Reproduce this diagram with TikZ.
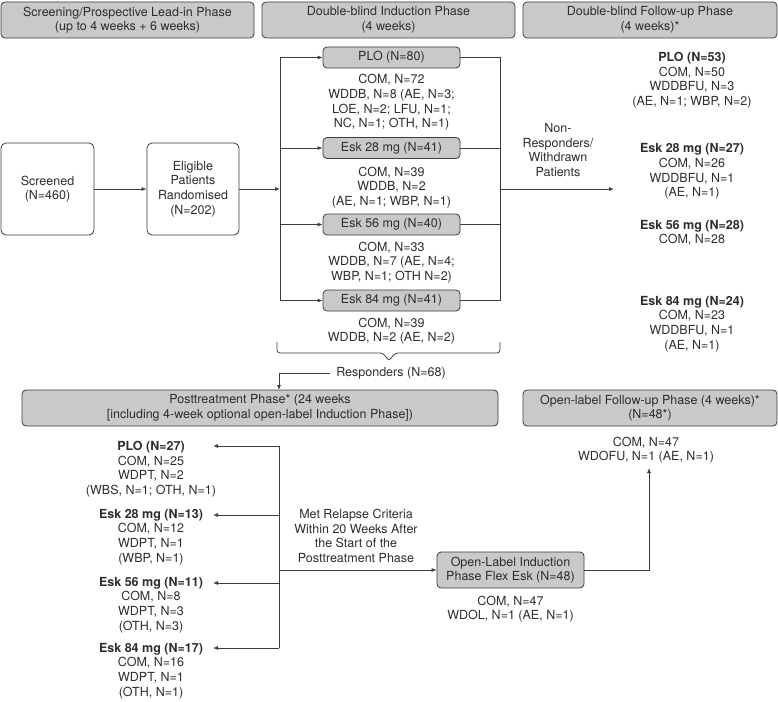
\documentclass[tikz,border=0pt]{standalone}
\usepackage{fontspec}
\setmainfont{TeX Gyre Heros}
\usetikzlibrary{arrows.meta}
\definecolor{boxgray}{RGB}{201,201,201}
\definecolor{ink}{RGB}{45,45,45}
\definecolor{linec}{RGB}{60,60,60}
\begin{document}
\begin{tikzpicture}[x=1pt,y=-1pt,
  every node/.style={font=\fontsize{12.5}{14.6}\selectfont, text=ink},
  phase/.style={draw=linec, line width=0.8pt, fill=boxgray, rounded corners=4pt, align=center, inner sep=0pt},
  armbox/.style={phase, minimum width=137pt, minimum height=21pt},
  whitebox/.style={draw=linec, line width=0.8pt, fill=white, rounded corners=5pt, align=center, inner sep=0pt},
  txt/.style={align=center, inner sep=0pt},
  conn/.style={draw=linec, line width=0.8pt},
  arr/.style={conn, -{Latex[length=5pt,width=4pt]}}
]
\useasboundingbox (0,0) rectangle (778,701);

% header phases
\node[phase, minimum width=253pt, minimum height=36pt] (hA) at (127.5,20) {Screening/Prospective Lead-in Phase\\(up to 4 weeks + 6 weeks)};
\node[phase, minimum width=253pt, minimum height=36pt] (hB) at (388.5,20) {Double-blind Induction Phase\\(4 weeks)};
\node[phase, minimum width=254pt, minimum height=36pt] (hC) at (650,20) {Double-blind Follow-up Phase\\(4 weeks)*};

% screening
\node[whitebox, minimum width=93pt, minimum height=92pt] (scr) at (47.5,189) {Screened\\(N=460)};
\node[whitebox, minimum width=92pt, minimum height=92pt] (elig) at (193,189) {Eligible\\Patients\\Randomised\\(N=202)};

% induction arms
\node[armbox] (plo) at (391.5,57.5) {PLO (N=80)};
\node[armbox] (e28) at (391.5,148) {Esk 28 mg (N=41)};
\node[armbox] (e56) at (391.5,224.5) {Esk 56 mg (N=40)};
\node[armbox] (e84) at (391.5,300.5) {Esk 84 mg (N=41)};

\node[txt] (ploT) at (391.5,102.5) {COM, N=72\\WDDB, N=8 (AE, N=3;\\LOE, N=2; LFU, N=1;\\NC, N=1; OTH, N=1)};
\node[txt] (e28T) at (391.5,187.5) {COM, N=39\\WDDB, N=2\\(AE, N=1; WBP, N=1)};
\node[txt] (e56T) at (391.5,262.5) {COM, N=33\\WDDB, N=7 (AE, N=4;\\WBP, N=1; OTH N=2)};
\node[txt] (e84T) at (391.5,331) {COM, N=39\\WDDB, N=2 (AE, N=2)};

% follow-up column
\node[txt] (fuPLO) at (692,80) {\textbf{PLO (N=53)}\\COM, N=50\\WDDBFU, N=3\\(AE, N=1; WBP, N=2)};
\node[txt] (fu28) at (692,171.5) {\textbf{Esk 28 mg (N=27)}\\COM, N=26\\WDDBFU, N=1\\(AE, N=1)};
\node[txt] (fu56) at (692,233) {\textbf{Esk 56 mg (N=28)}\\COM, N=28};
\node[txt] (fu84) at (692,324) {\textbf{Esk 84 mg (N=24)}\\COM, N=23\\WDDBFU, N=1\\(AE, N=1)};

\node[txt] (nr) at (558,150) {Non-\\Responders/\\Withdrawn\\Patients};

% junctions
\coordinate (jL) at (280,189);
\coordinate (jL1) at (280,57.5);
\coordinate (jL4) at (280,300.5);
\coordinate (jR1) at (500,57.5);
\coordinate (jR4) at (500,300.5);
\coordinate (jRm) at (500,189);
\coordinate (nrEnd) at (614,189);

\draw[arr] (scr.east) -- (elig.west);
\draw[arr] (elig.east) -- (jL);
\draw[conn] (jL1) -- (jL4);
\draw[arr] (jL1) -- (plo.west);
\draw[arr] (jL1 |- e28.west) -- (e28.west);
\draw[arr] (jL1 |- e56.west) -- (e56.west);
\draw[arr] (jL4) -- (e84.west);
\draw[conn] (plo.east) -- (jR1) -- (jR4) -- (e84.east);
\draw[conn] (e28.east) -- (e28.east -| jR1);
\draw[conn] (e56.east) -- (e56.east -| jR1);
\draw[arr] (jRm) -- (nrEnd);

% brace
\draw[conn, rounded corners=3pt] (277,342) -- (277,353) -- (383,353) -- (389,361) -- (395,353) -- (500,353) -- (500,342);
\node[txt] (resp) at (391,373) {Responders (N=68)};

% lower phases
\node[phase, minimum width=476pt, minimum height=36pt] (pt) at (260,408) {Posttreatment Phase* (24 weeks\\{}[including 4-week optional open-label Induction Phase])};
\coordinate (ptIn) at (279,390);
\draw[arr] ([xshift=-6pt]resp.west) -| (ptIn);

\node[phase, minimum width=254pt, minimum height=36pt] (olfu) at (650,408) {Open-label Follow-up Phase (4 weeks)*\\(N=48*)};
\node[txt] (olfuT) at (646,450) {COM, N=47\\WDOFU, N=1 (AE, N=1)};
\node[phase, minimum width=147pt, minimum height=36pt] (olind) at (510.5,570) {Open-Label Induction\\Phase Flex Esk (N=48)};
\node[txt] (olindT) at (510.5,609) {COM, N=47\\WDOL, N=1 (AE, N=1)};
\node[txt] (rel) at (356,536) {Met Relapse Criteria\\Within 20 Weeks After\\the Start of the\\Posttreatment Phase};

% posttreatment arms
\node[txt] (pPLO) at (151,469) {\textbf{PLO (N=27)}\\COM, N=25\\WDPT, N=2\\(WBS, N=1; OTH, N=1)};
\node[txt] (p28) at (151,537) {\textbf{Esk 28 mg (N=13)}\\COM, N=12\\WDPT, N=1\\(WBP, N=1)};
\node[txt] (p56) at (151,605) {\textbf{Esk 56 mg (N=11)}\\COM, N=8\\WDPT, N=3\\(OTH, N=3)};
\node[txt] (p84) at (151,671) {\textbf{Esk 84 mg (N=17)}\\COM, N=16\\WDPT, N=1\\(OTH, N=1)};

\coordinate (bL1) at (279,446);
\coordinate (bL4) at (279,648);
\coordinate (bLm) at (279,570);
\coordinate (aPLO) at (213,446);
\coordinate (a28) at (213,515);
\coordinate (a56) at (213,583);
\coordinate (a84) at (213,648);
\coordinate (olfuIn) at (649,468);

\draw[conn] (bL1) -- (bL4);
\draw[arr] (bL1) -- (aPLO);
\draw[arr] (bL1 |- a28) -- (a28);
\draw[arr] (bL1 |- a56) -- (a56);
\draw[arr] (bL4) -- (a84);
\draw[arr] (bLm) -- (olind.west);
\draw[arr] (olind.east) -| (olfuIn);
\end{tikzpicture}
\end{document}
